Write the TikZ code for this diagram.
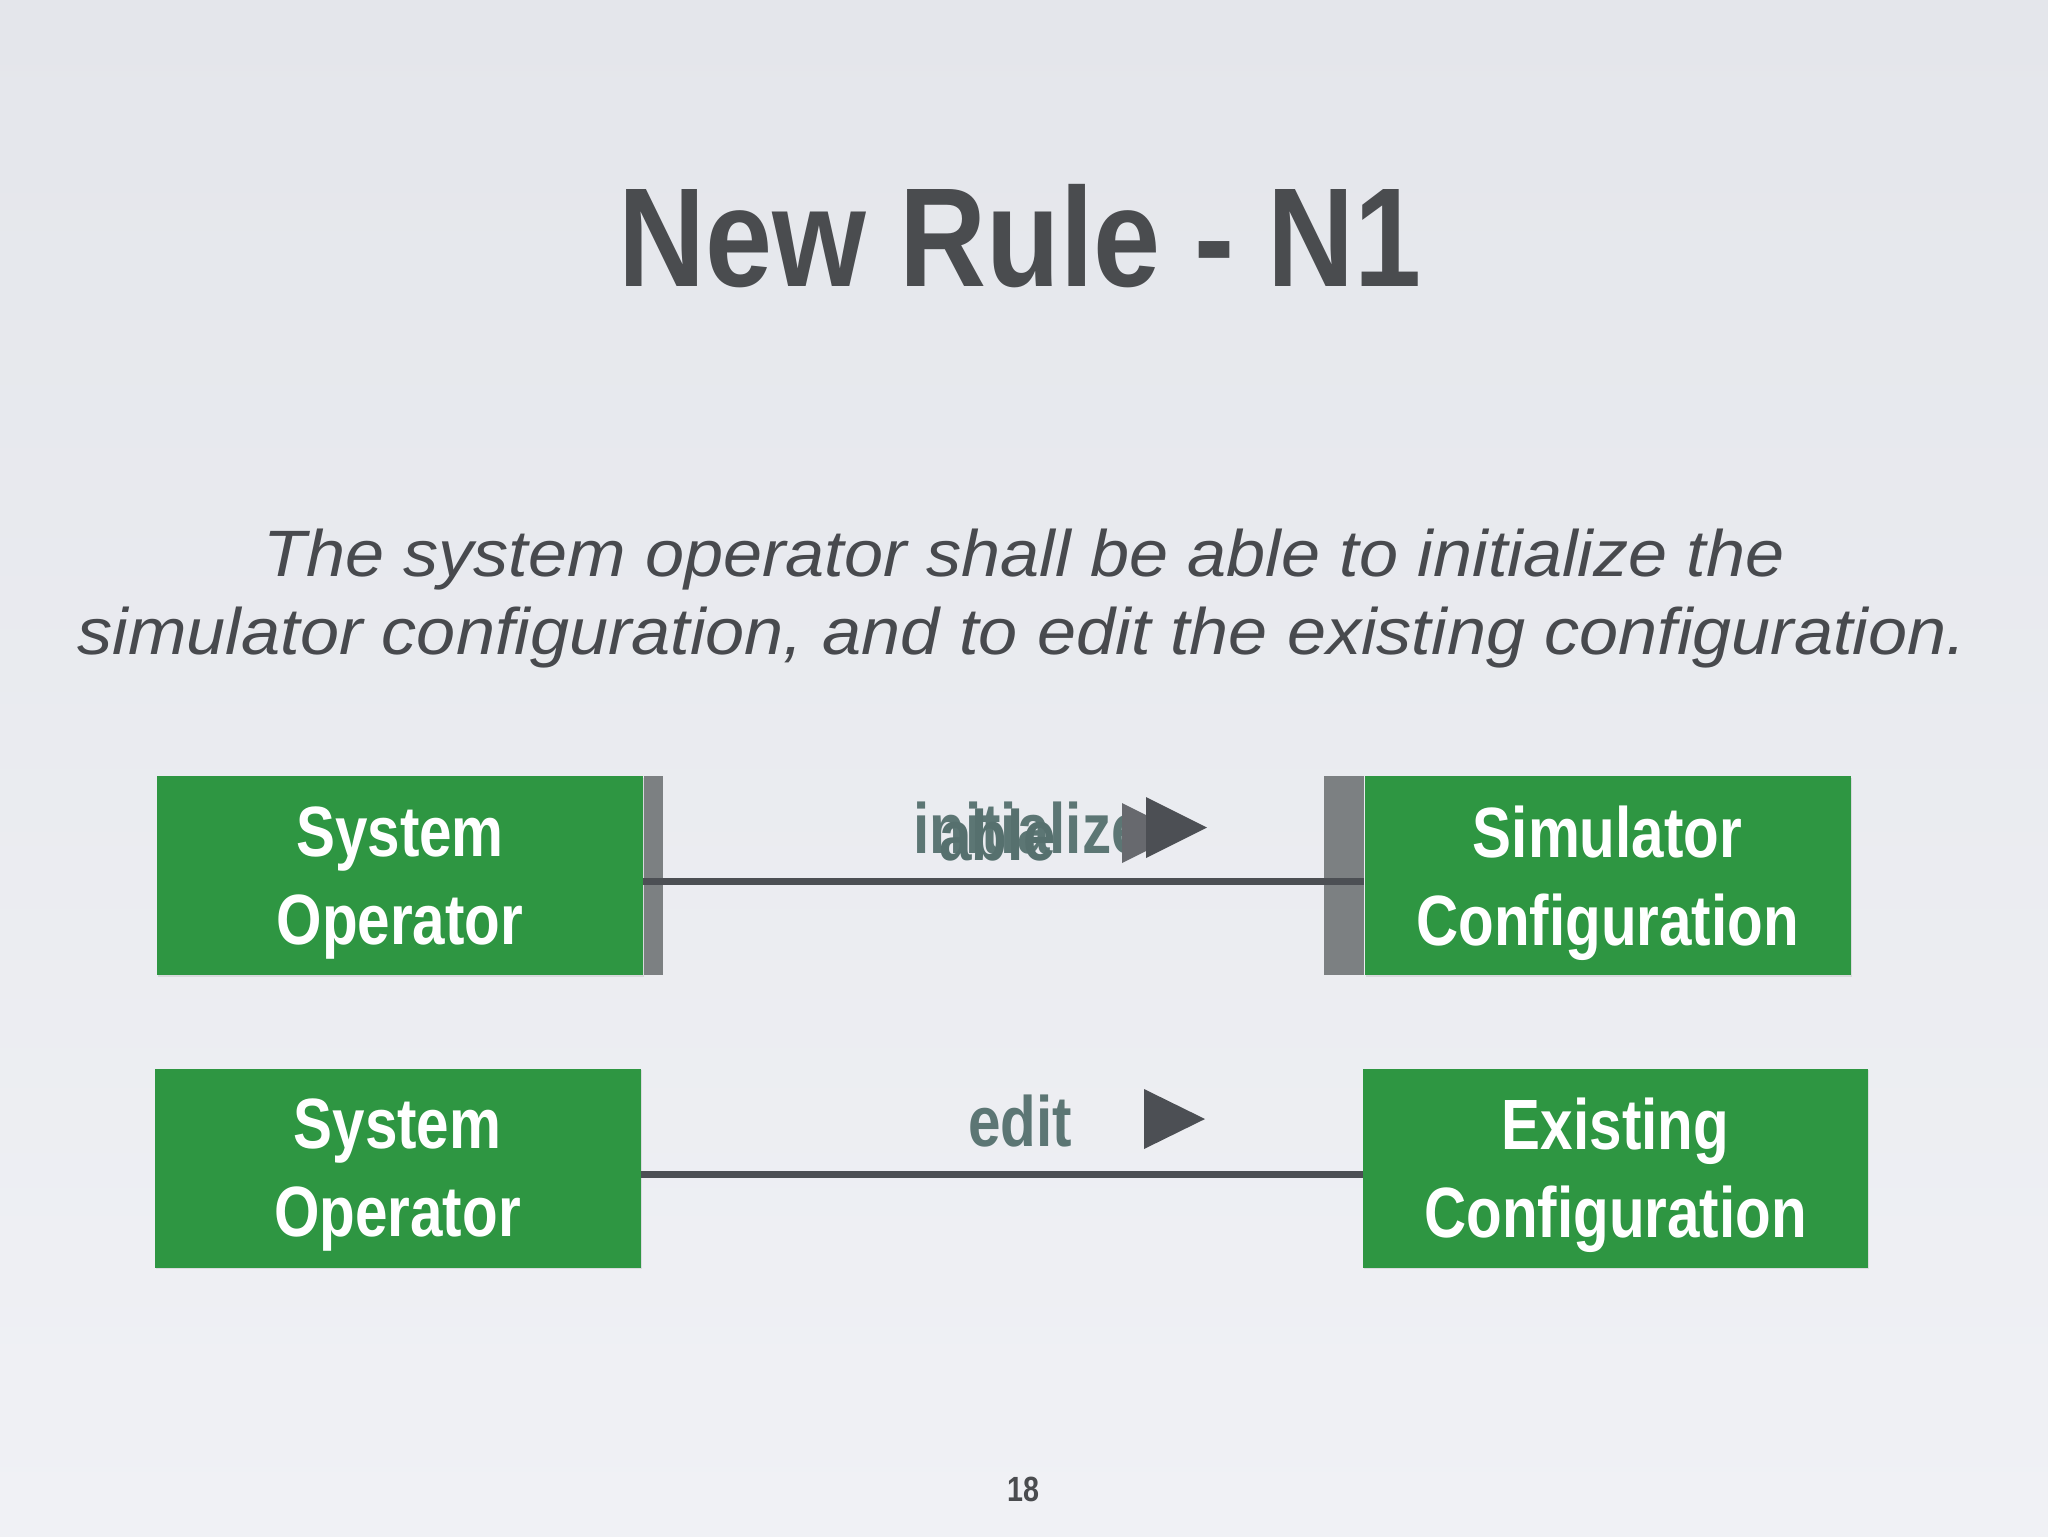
\documentclass[tikz,border=0pt]{standalone}
\usepackage{fontspec}
\usepackage{tikz}
\usetikzlibrary{positioning}
\usetikzlibrary{shadows}
\newfontfamily\condfont[FakeStretch=0.82]{Liberation Sans}
\newfontfamily\headfont[FakeStretch=0.855]{Liberation Sans}
\newfontfamily\bodyfont[FakeStretch=1.07]{Liberation Sans}
\definecolor{bgtop}{RGB}{228,230,235}
\definecolor{bgbottom}{RGB}{240,241,245}
\definecolor{boxgreen}{RGB}{46,150,66}
\definecolor{tabgray}{RGB}{124,128,130}
\definecolor{linegray}{RGB}{76,79,84}
\definecolor{verbteal}{RGB}{92,118,116}
\definecolor{ableteal}{RGB}{86,112,110}
\definecolor{titlegray}{RGB}{74,76,79}
\definecolor{textgray}{RGB}{72,74,78}
\tikzset{
    block/.style={fill=boxgreen, text=white, minimum width=243pt, minimum height=99.5pt,
        inner sep=0pt, align=center, text depth=0pt,
        font=\condfont\bfseries\fontsize{35.6pt}{44pt}\selectfont,
        drop shadow={shadow xshift=0.6pt, shadow yshift=-0.8pt, opacity=0.18}},
    tab/.style={fill=tabgray, minimum height=99.5pt, inner sep=0pt},
    link/.style={draw=linegray, line width=3.5pt},
    verb/.style={inner sep=0pt, font=\condfont\bfseries\fontsize{35.6pt}{44pt}\selectfont},
    tip/.style={fill=linegray},
    desc/.style={inner sep=0pt, text=textgray, font=\bodyfont\itshape\fontsize{32.8pt}{39pt}\selectfont}
}
\begin{document}
\begin{tikzpicture}[x=0.5pt,y=-0.5pt]
	\useasboundingbox (0,0) rectangle (2048,1536);
	\shade[top color=bgtop, bottom color=bgbottom] (0,0) rectangle (2048,1536);
	% heading and rule text
	\node[inner sep=0pt, anchor=base, text=titlegray, font=\headfont\bfseries\fontsize{70.5pt}{80pt}\selectfont] (title) at (1020,286) {New Rule - N1};
	\node[desc, anchor=base] (desc1) at (1024,576) {The system operator shall be able to initialize the};
	\node[desc, anchor=base] (desc2) at (1022,654) {simulator configuration, and to edit the existing configuration.};
	% first row
	\node[block] (sysop1) at (400,875.5) {System\\Operator};
	\node[tab, minimum width=9.5pt, right=0pt of sysop1] (tab1) {};
	\node[block] (simcfg) at (1607.5,875.5) {Simulator\\Configuration};
	\node[tab, minimum width=20pt, left=0pt of simcfg] (tab2) {};
	\draw[link] ([yshift=-3pt]sysop1.east) -- ([yshift=-3pt]simcfg.west);
	\node[verb, text=verbteal, anchor=base west] (init) at (913,853) {initialize};
	\node[verb, text=ableteal, anchor=base west] (able) at (939,860) {able};
	\fill[tip, fill=linegray!85] (1122,803) -- (1182,833) -- (1122,863) -- cycle;
	\fill[tip] (1146,797) -- (1207,827.5) -- (1146,858) -- cycle;
	% second row
	\node[block] (sysop2) at (397.5,1168) {System\\Operator};
	\node[block, minimum width=252.5pt] (excfg) at (1615.5,1168) {Existing\\Configuration};
	\draw[link] ([yshift=-3pt]sysop2.east) -- ([yshift=-3pt]excfg.west);
	\node[verb, text=verbteal, anchor=base west] (edit) at (968,1146) {edit};
	\fill[tip] (1144,1089) -- (1205,1119) -- (1144,1149) -- cycle;
	\node[inner sep=0pt, anchor=base, text=titlegray, font=\condfont\bfseries\fontsize{17.5pt}{20pt}\selectfont] (page) at (1023.5,1501) {18};
\end{tikzpicture}
\end{document}
